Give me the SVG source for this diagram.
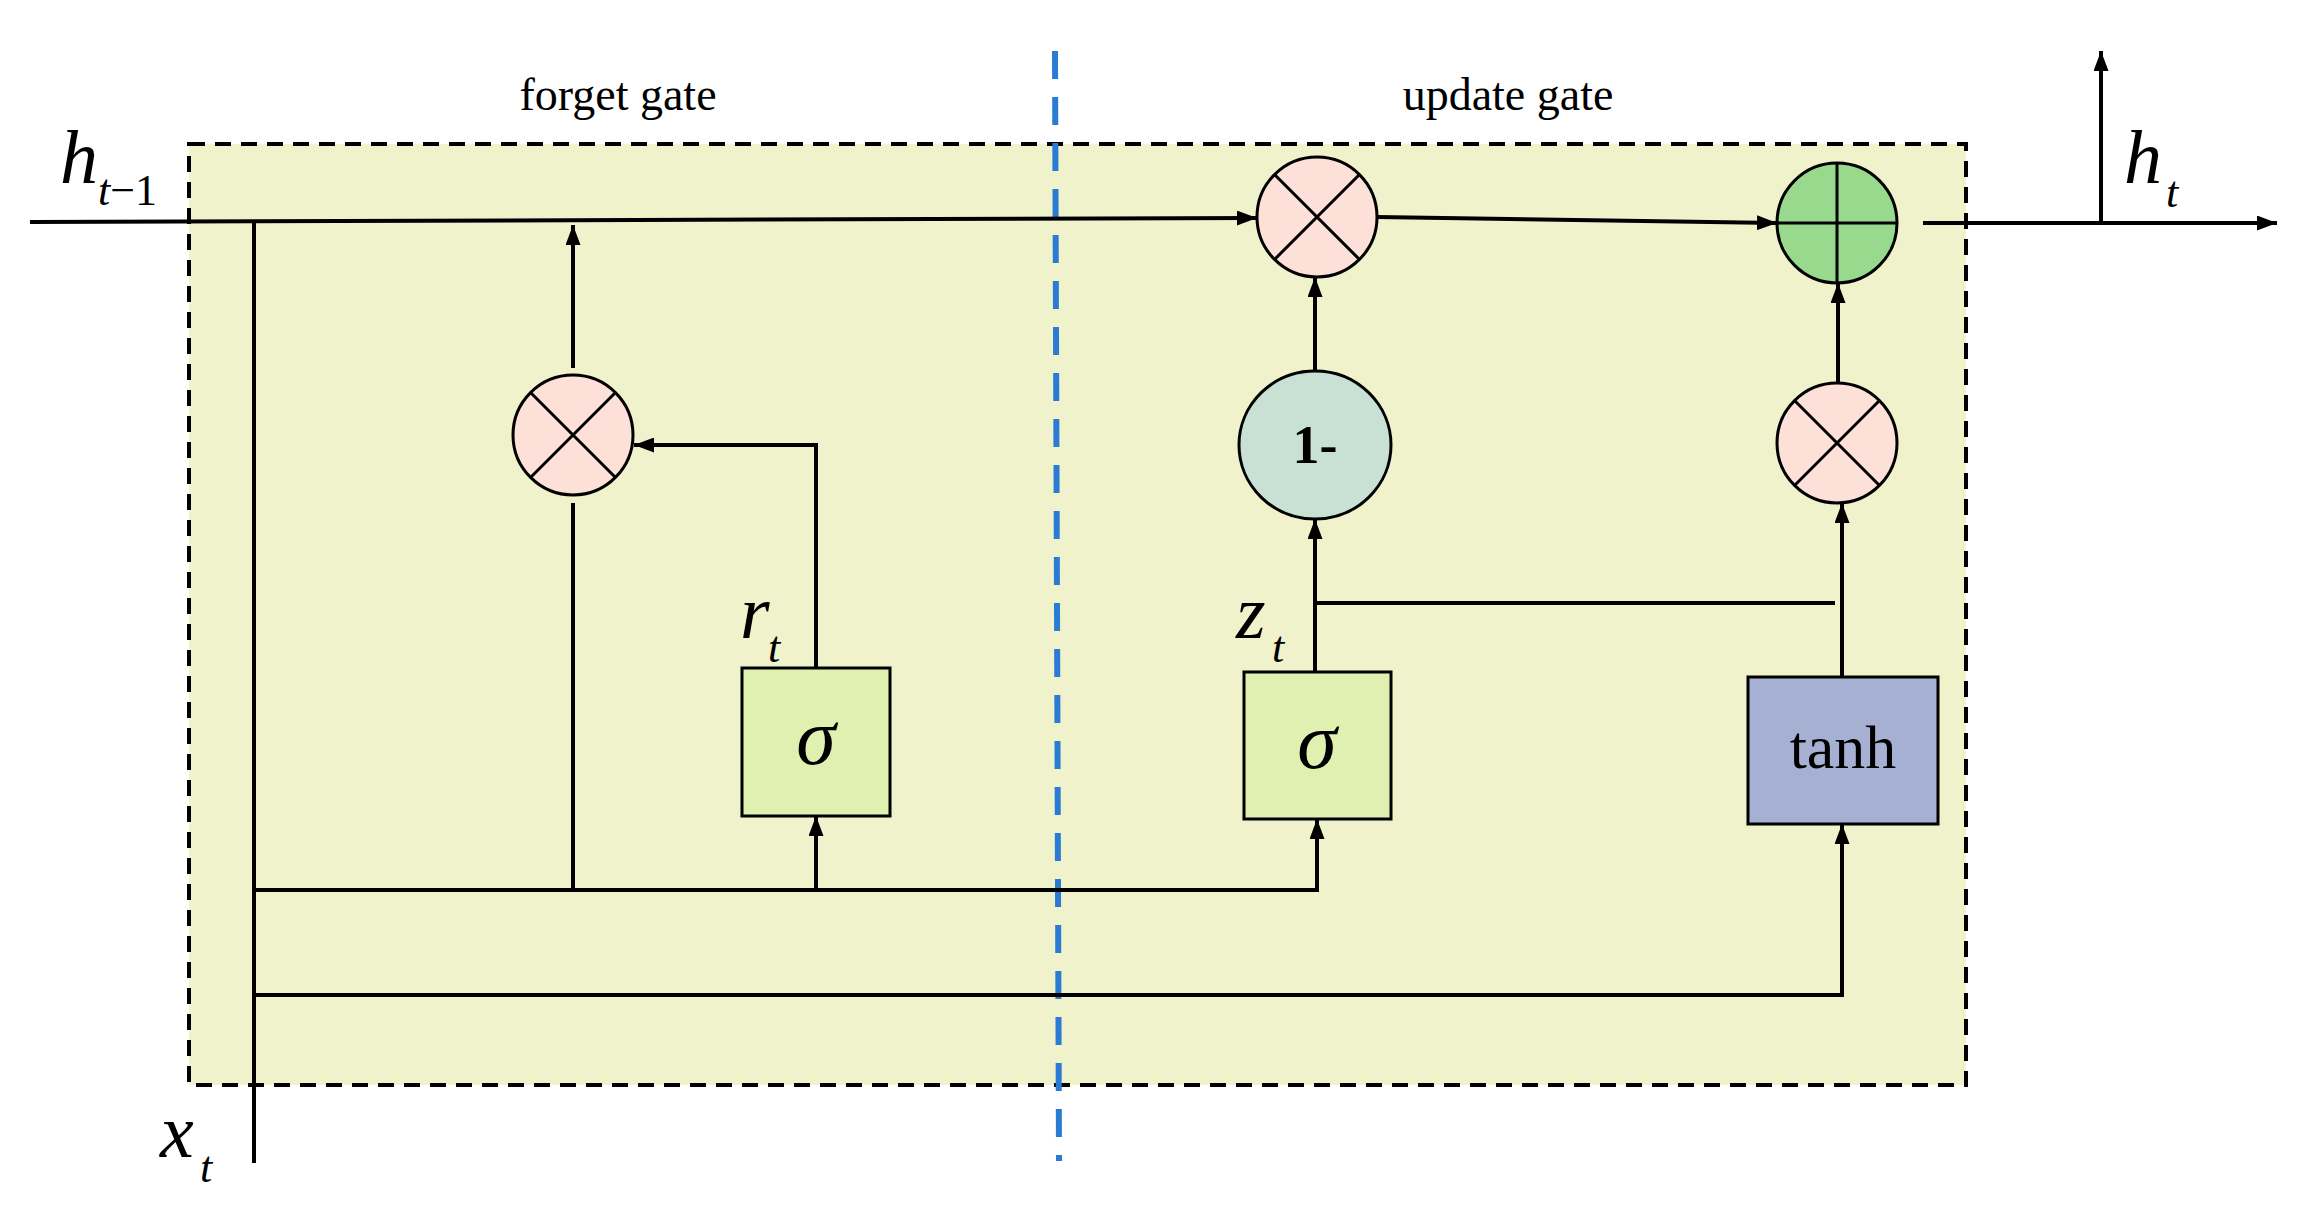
<svg xmlns="http://www.w3.org/2000/svg" width="2321" height="1222" viewBox="0 0 2321 1222">
<defs>
<marker id="ah" viewBox="0 0 10 10" refX="10" refY="5" markerWidth="20" markerHeight="15" markerUnits="userSpaceOnUse" orient="auto" preserveAspectRatio="none"><path d="M0,0 L10,5 L0,10 z" fill="#000"/></marker>
<style>
.w{stroke:#000;stroke-width:4;fill:none}
.n{stroke:#000;stroke-width:3}
.t{font-family:"Liberation Serif",serif;fill:#000}
.i{font-style:italic}
</style>
</defs>
<rect width="2321" height="1222" fill="#fff"/>
<rect x="189" y="144" width="1777" height="941" fill="#f0f2cb" stroke="#000" stroke-width="4" stroke-dasharray="16,10"/>
<line x1="1055" y1="51" x2="1059" y2="1161" stroke="#2a7bd4" stroke-width="6" stroke-dasharray="28,18"/>
<text class="t" x="618" y="110" font-size="46" text-anchor="middle">forget gate</text>
<text class="t" x="1508" y="110" font-size="46" text-anchor="middle">update gate</text>
<g id="connectors">
<path class="w" d="M30,222 L1257,218" marker-end="url(#ah)"/>
<path class="w" d="M254,222 V1163"/>
<path class="w" d="M573,368 V225" marker-end="url(#ah)"/>
<path class="w" d="M573,503 V890"/>
<path class="w" d="M254,890 H1317 V819" marker-end="url(#ah)"/>
<path class="w" d="M816,890 V816" marker-end="url(#ah)"/>
<path class="w" d="M816,668 V445 H634" marker-end="url(#ah)"/>
<path class="w" d="M254,995 H1842 V824" marker-end="url(#ah)"/>
<path class="w" d="M1315,672 V519" marker-end="url(#ah)"/>
<path class="w" d="M1315,371 V277" marker-end="url(#ah)"/>
<path class="w" d="M1315,603 H1835"/>
<path class="w" d="M1842,677 V503" marker-end="url(#ah)"/>
<path class="w" d="M1838,383 V283" marker-end="url(#ah)"/>
<path class="w" d="M1377,217 L1777,223" marker-end="url(#ah)"/>
<path class="w" d="M1923,223 H2277" marker-end="url(#ah)"/>
<path class="w" d="M2101,223 V51" marker-end="url(#ah)"/>
</g>
<g id="mul1"><circle class="n" cx="573" cy="435" r="60" fill="#fde0d8"/><path class="n" d="M531,393 L615,477 M615,393 L531,477"/></g>
<g id="sig1"><rect class="n" x="742" y="668" width="148" height="148" fill="#e0f0b0"/><text class="t i" x="816" y="764" font-size="80" text-anchor="middle">σ</text></g>
<g id="mul2"><circle class="n" cx="1317" cy="217" r="60" fill="#fde0d8"/><path class="n" d="M1275,175 L1359,259 M1359,175 L1275,259"/></g>
<g id="plus"><circle class="n" cx="1837" cy="223" r="60" fill="#99d98e"/><path class="n" d="M1777,223 H1897 M1837,163 V283"/></g>
<g id="oneminus"><ellipse class="n" cx="1315" cy="445" rx="76" ry="74" fill="#c9e0d4"/><text class="t" x="1315" y="463" font-size="54" font-weight="bold" text-anchor="middle">1-</text></g>
<g id="mul3"><circle class="n" cx="1837" cy="443" r="60" fill="#fde0d8"/><path class="n" d="M1795,401 L1879,485 M1879,401 L1795,485"/></g>
<g id="sig2"><rect class="n" x="1244" y="672" width="147" height="147" fill="#e0f0b0"/><text class="t i" x="1317" y="768" font-size="80" text-anchor="middle">σ</text></g>
<g id="tanh"><rect class="n" x="1748" y="677" width="190" height="147" fill="#a6b0d2"/><text class="t" x="1843" y="768" font-size="62" text-anchor="middle">tanh</text></g>
<text class="t i" x="60" y="183" font-size="76">h</text><text class="t" x="98" y="205" font-size="44"><tspan font-style="italic">t</tspan>−1</text>
<text class="t i" x="2124" y="183" font-size="76">h</text><text class="t i" x="2166" y="207" font-size="44">t</text>
<text class="t i" x="160" y="1157" font-size="76">x</text><text class="t i" x="200" y="1182" font-size="44">t</text>
<text class="t i" x="740" y="638" font-size="76">r</text><text class="t i" x="768" y="662" font-size="44">t</text>
<text class="t i" x="1236" y="638" font-size="76">z</text><text class="t i" x="1272" y="662" font-size="44">t</text>
</svg>
